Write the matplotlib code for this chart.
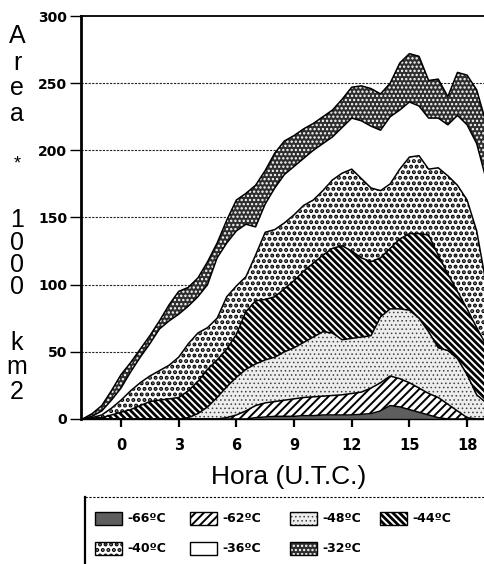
import matplotlib
matplotlib.use("Agg")
import matplotlib.pyplot as plt
import numpy as np
from matplotlib.patches import Rectangle
from matplotlib.lines import Line2D

# ---------------- data (cumulative area, x1000 km2) ----------------
hours = np.arange(-2, 19.01, 0.5)

area_m66 = [0, 0, 0, 0, 0, 0, 0, 0, 0, 0, 0, 0, 0, 0, 0, 0, 0, 0,
            1, 1.5, 2, 2, 2, 2.5, 2.5, 3, 3, 3, 3, 3.5, 4, 6, 10, 9, 7, 5, 3, 1,
            0, 0, 0, 0, 0]
area_m62 = [0, 0, 0, 0, 0, 0, 0, 0, 0, 0, 0, 0, 0, 0, 0,
            1, 3, 6, 10, 12, 13, 14, 15, 16, 16.5, 17, 17.5, 18, 19, 20, 23, 27,
            32, 30, 27, 23, 19, 16, 11, 6, 1, 0, 0]
area_m48 = [0, 0, 0, 0, 0, 0, 0, 0, 0, 0, 0, 1, 4, 9, 16, 24, 31, 37, 41, 44,
            46, 50, 53, 57, 61, 65, 64, 59, 60, 61, 62, 76, 82, 82, 81, 75, 65,
            53, 51, 45, 33, 18, 12]
area_m44 = [0, 0.5, 1, 3, 5, 7, 10, 13, 14, 15, 16, 21, 28, 37, 44, 52, 63, 80,
            88, 89, 91, 97, 103, 110, 116, 122, 127, 129, 125, 120, 117, 120,
            127, 134, 138, 138, 137, 122, 108, 95, 82, 68, 55]
area_m40 = [0, 1, 3, 8, 14, 21, 27, 32, 36, 40, 46, 56, 64, 68, 75, 91, 99, 106,
            122, 139, 141, 146, 152, 159, 163, 170, 178, 183, 186, 179, 172, 170,
            175, 186, 195, 196, 186, 187, 181, 174, 163, 140, 100]
area_m36 = [0, 2, 6, 14, 23, 35, 46, 56, 67, 73, 78, 84, 91, 100, 120, 131, 140,
            145, 143, 160, 172, 182, 188, 194, 200, 205, 210, 217, 224, 222, 218,
            215, 225, 230, 236, 233, 224, 224, 219, 226, 219, 205, 178]
area_m32 = [0, 4, 10, 21, 33, 42, 52, 62, 73, 85, 95, 98, 105, 117, 131, 148, 163,
            168, 174, 185, 198, 207, 211, 216, 220, 225, 230, 238, 247, 248, 246,
            242, 250, 265, 272, 270, 252, 253, 240, 258, 256, 245, 220]

labels = ["-66ºC", "-62ºC", "-48ºC", "-44ºC", "-40ºC", "-36ºC", "-32ºC"]
xticks = [0, 3, 6, 9, 12, 15, 18]
yticks = [0, 50, 100, 150, 200, 250, 300]

series = [area_m66, area_m62, area_m48, area_m44, area_m40, area_m36, area_m32]

# style per layer: facecolor, hatch, hatch colour, hatch linewidth
styles = [
    dict(fc="#5e5e5e", hatch=None, hc="#5e5e5e", hlw=1.0),
    dict(fc="white", hatch="////", hc="black", hlw=1.4),
    dict(fc="#ededed", hatch="....", hc="#404040", hlw=0.6),
    dict(fc="white", hatch="\\" * 5, hc="black", hlw=2.0),
    dict(fc="white", hatch="...", hc="black", hlw=2.0),
    dict(fc="white", hatch=None, hc="white", hlw=1.0),
    dict(fc="#2e2e2e", hatch="....", hc="white", hlw=1.1),
]

W, H = 484, 564
fig = plt.figure(figsize=(W / 100, H / 100), dpi=100)
fig.patch.set_facecolor("white")

ax = fig.add_axes([81 / W, (H - 419) / H, (W - 81) / W, 403 / H])
ax.set_xlim(-2.08, 18.88)
ax.set_ylim(0, 300)

for y in yticks[1:-1]:
    ax.axhline(y, color="#222222", lw=0.8, ls=(0, (2, 1.2)), zorder=0.5)

bottom = np.zeros(len(hours))
for vals, st in zip(series, styles):
    top = np.asarray(vals, dtype=float)
    coll = ax.fill_between(hours, bottom, top, facecolor=st["fc"],
                           edgecolor=st["hc"], hatch=st["hatch"],
                           linewidth=0, zorder=2)
    if hasattr(coll, "set_hatch_linewidth"):
        coll.set_hatch_linewidth(st["hlw"])
    bottom = top

for vals in series:
    ax.plot(hours, vals, color="black", lw=1.1, zorder=3)

ax.spines["right"].set_visible(False)
ax.spines["top"].set_linewidth(1.3)
ax.spines["left"].set_linewidth(2.0)
ax.spines["bottom"].set_linewidth(1.0)

ax.set_xticks(xticks)
ax.set_xticklabels([str(v) for v in xticks], fontsize=10.5, fontweight="bold",
                   family="DejaVu Sans")
ax.set_yticks(yticks)
ax.set_yticklabels([str(v) for v in yticks], fontsize=10, fontweight="bold",
                   family="DejaVu Sans")
ax.tick_params(axis="x", direction="out", length=6, width=1.6, pad=8)
ax.tick_params(axis="y", direction="out", length=8, width=1.0, pad=2)

# stacked vertical y label
ylabel_chars = [("A", 36), ("r", 63), ("e", 88), ("a", 114), ("*", 164),
                ("1", 220), ("0", 243), ("0", 265), ("0", 287),
                ("k", 343), ("m", 367), ("2", 392)]
for ch, yp in ylabel_chars:
    fig.text(17 / W, 1 - yp / H, ch, ha="center", va="center",
             fontsize=18 if ch != "*" else 13, family="Liberation Sans")

fig.text(289 / W, 1 - 477 / H, "Hora (U.T.C.)", ha="center", va="center",
         fontsize=19, family="Liberation Sans")

# legend frame
fig.add_artist(Line2D([85 / W, 85 / W], [1 - 497 / H, 0], color="black",
                      lw=1.6, transform=fig.transFigure))
fig.add_artist(Line2D([85 / W, 1], [1 - 497 / H, 1 - 497 / H], color="black",
                      lw=0.8, ls=(0, (2, 1.5)), transform=fig.transFigure))

leg_pos = [(95, 518), (190, 518), (290, 518), (380, 518),
           (95, 548), (190, 548), (290, 548)]
pw, ph = 27, 13
for (px, py), lab, st in zip(leg_pos, labels, styles):
    r = Rectangle((px / W, 1 - (py + ph / 2) / H), pw / W, ph / H,
                  transform=fig.transFigure, facecolor=st["fc"],
                  edgecolor=st["hc"], hatch=st["hatch"], linewidth=0)
    if hasattr(r, "set_hatch_linewidth"):
        r.set_hatch_linewidth(st["hlw"])
    fig.add_artist(r)
    fig.add_artist(Rectangle((px / W, 1 - (py + ph / 2) / H), pw / W, ph / H,
                             transform=fig.transFigure, facecolor="none",
                             edgecolor="black", linewidth=1.0))
    fig.text((px + 32) / W, 1 - py / H, lab, ha="left", va="center",
             fontsize=9, fontweight="bold", family="DejaVu Sans")

fig.savefig("out.png", dpi=100)
